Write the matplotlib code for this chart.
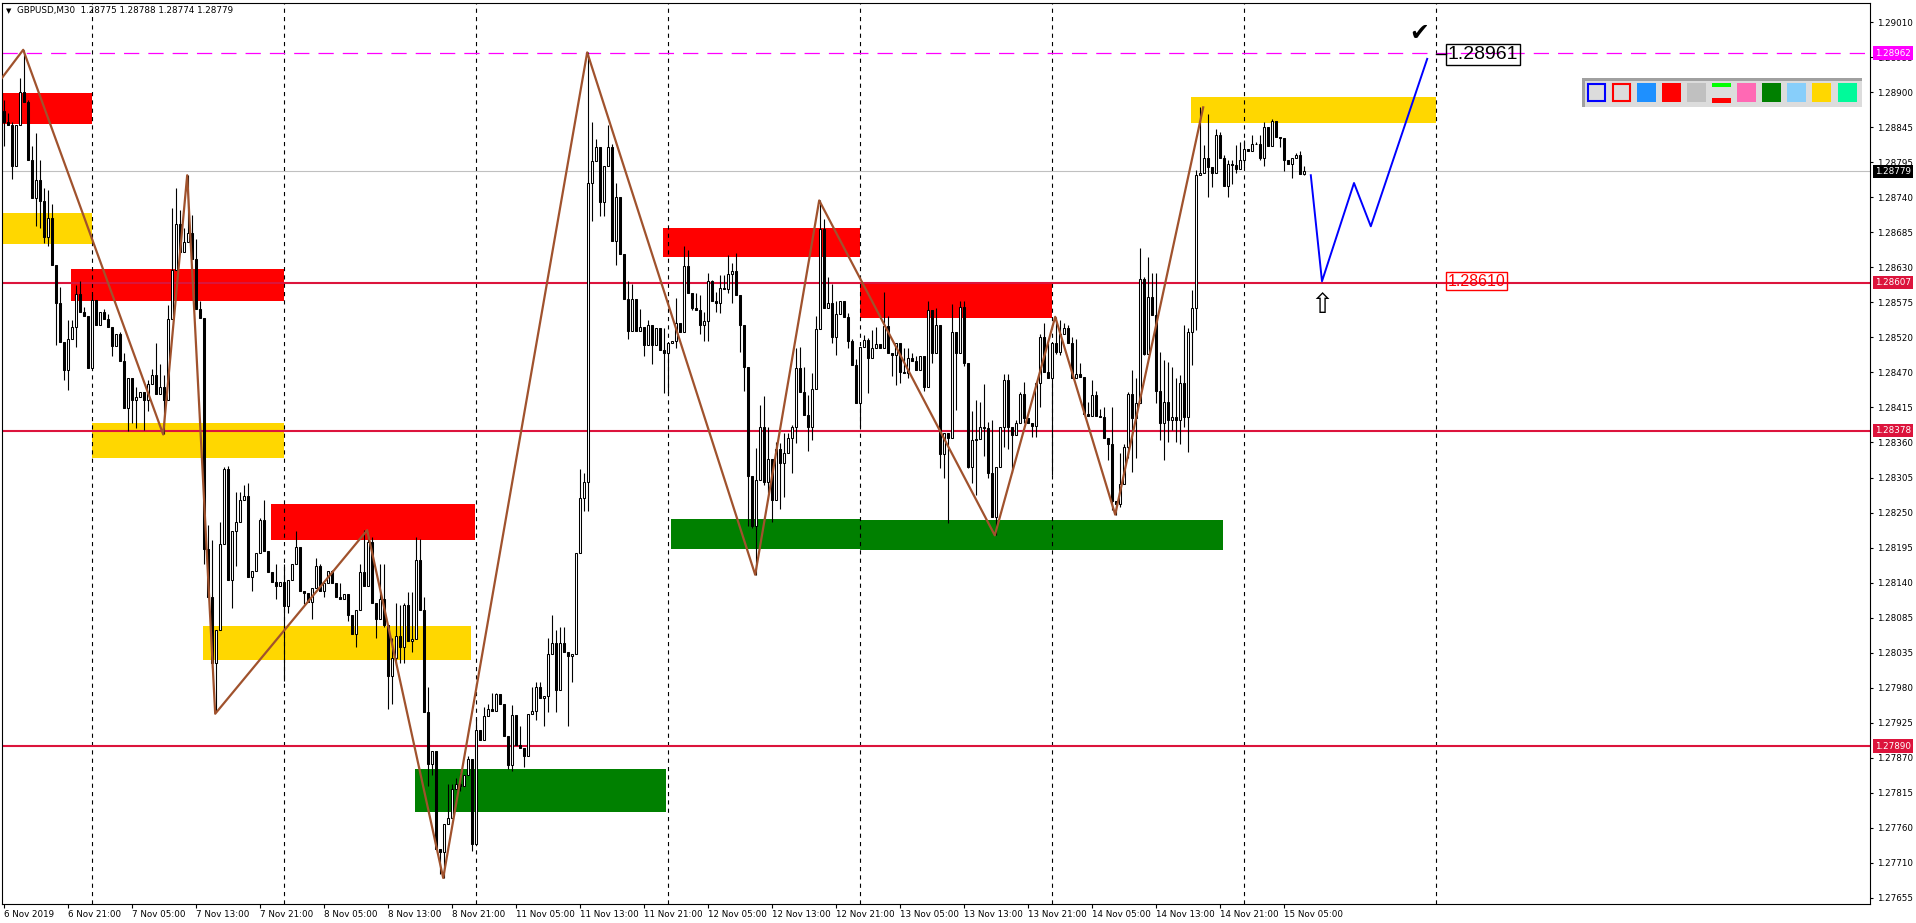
import matplotlib
matplotlib.use("Agg")
import matplotlib.pyplot as plt
import matplotlib.transforms as mtrans
from matplotlib.patches import Rectangle
import numpy as np

plt.rcParams['font.family'] = ['DejaVu Sans']
plt.rcParams['lines.scale_dashes'] = False

# prices are stored as 1e-5 steps above 1.0  (28855 -> 1.28855)
first_open = 28872
closes = [
    28855, 28850, 28788, 28850, 28901, 28887, 28796, 28738, 28765, 28733,
    28677, 28707, 28634, 28576, 28515, 28471, 28520, 28539, 28590, 28562,
    28556, 28475, 28580, 28542, 28562, 28550, 28539, 28509, 28528, 28486,
    28413, 28459, 28426, 28430, 28437, 28426, 28450, 28464, 28434, 28445,
    28426, 28550, 28627, 28697, 28654, 28670, 28684, 28643, 28566, 28552,
    28195, 28120, 28018, 28069, 28202, 28318, 28147, 28222, 28237, 28271,
    28277, 28151, 28161, 28188, 28239, 28192, 28160, 28144, 28137, 28144,
    28107, 28147, 28171, 28198, 28130, 28127, 28113, 28134, 28168, 28130,
    28142, 28161, 28142, 28121, 28118, 28125, 28093, 28064, 28100, 28159,
    28138, 28206, 28112, 28087, 28117, 28078, 27998, 28027, 28061, 28044,
    28108, 28053, 28055, 28178, 28100, 27943, 27862, 27883, 27731, 27726,
    27769, 27779, 27824, 27832, 27828, 27845, 27870, 27739, 27915, 27900,
    27937, 27947, 27945, 27971, 27955, 27906, 27860, 27938, 27892, 27887,
    27875, 27940, 27945, 27981, 27964, 27968, 28033, 28049, 27976, 28050,
    28036, 28030, 28033, 28189, 28273, 28299, 28761, 28795, 28817, 28732,
    28787, 28817, 28672, 28740, 28651, 28582, 28532, 28582, 28532, 28539,
    28511, 28541, 28511, 28536, 28503, 28498, 28513, 28516, 28545, 28531,
    28633, 28591, 28567, 28565, 28541, 28548, 28609, 28578, 28576, 28598,
    28597, 28620, 28625, 28588, 28541, 28477, 28307, 28230, 28302, 28383,
    28299, 28334, 28271, 28349, 28328, 28344, 28366, 28384, 28475, 28437,
    28402, 28384, 28442, 28535, 28690, 28567, 28575, 28523, 28559, 28578,
    28554, 28516, 28480, 28421, 28507, 28518, 28490, 28506, 28512, 28505,
    28540, 28498, 28495, 28514, 28468, 28467, 28490, 28485, 28471, 28493,
    28446, 28564, 28498, 28542, 28342, 28374, 28366, 28530, 28498, 28569,
    28483, 28322, 28364, 28365, 28384, 28382, 28312, 28245, 28322, 28384,
    28457, 28384, 28371, 28390, 28434, 28397, 28390, 28385, 28451, 28522,
    28469, 28460, 28513, 28500, 28528, 28536, 28513, 28459, 28465, 28461,
    28404, 28400, 28433, 28400, 28399, 28367, 28358, 28269, 28265, 28296,
    28353, 28434, 28397, 28420, 28613, 28497, 28585, 28557, 28440, 28390,
    28422, 28394, 28399, 28394, 28451, 28399, 28531, 28568, 28773, 28776,
    28800, 28786, 28777, 28836, 28799, 28756, 28790, 28789, 28782, 28796,
    28814, 28811, 28821, 28822, 28800, 28848, 28818, 28857, 28832, 28831,
    28797, 28791, 28800, 28804, 28775, 28779,
]
# wick extremes (bar index -> price)
high_wick = {
    0: 28889, 1: 28869, 2: 28855, 4: 28923, 5: 28967, 6: 28889, 7: 28818, 8: 28838, 9: 28797,
    10: 28753, 11: 28750, 12: 28729, 14: 28600, 16: 28549, 17: 28549, 18: 28603, 19: 28610,
    20: 28569, 22: 28590, 23: 28580, 25: 28566, 26: 28559, 29: 28530, 30: 28498, 33: 28445,
    36: 28457, 37: 28474, 38: 28513, 39: 28481, 40: 28464, 41: 28573, 42: 28722, 43: 28753,
    44: 28719, 45: 28692, 46: 28773, 47: 28712, 48: 28675, 49: 28579, 51: 28232, 52: 28209,
    54: 28236, 55: 28321, 56: 28324, 58: 28283, 59: 28283, 60: 28294, 61: 28297, 64: 28243,
    65: 28270, 68: 28171, 70: 28171, 73: 28222, 78: 28181, 79: 28171, 82: 28163, 84: 28142,
    89: 28172, 90: 28224, 91: 28218, 92: 28214, 94: 28172, 95: 28172, 97: 28057, 98: 28112,
    99: 28108, 100: 28112, 101: 28129, 102: 28129, 103: 28214, 104: 28210, 105: 28121,
    106: 27981, 111: 27832, 112: 27832, 113: 27841, 114: 27849, 116: 27875, 117: 27866,
    118: 27934, 120: 27951, 121: 27955, 122: 27972, 123: 27972, 127: 27954, 129: 27921,
    132: 27981, 133: 27989, 134: 27989, 136: 28057, 137: 28093, 138: 28070, 139: 28074,
    140: 28074, 144: 28318, 145: 28312, 146: 28963, 147: 28855, 148: 28829, 151: 28850,
    152: 28822, 153: 28761, 156: 28609, 157: 28604, 159: 28566, 161: 28549, 165: 28537,
    168: 28583, 170: 28664, 171: 28658, 173: 28591, 174: 28588, 175: 28562, 176: 28621,
    177: 28611, 178: 28593, 179: 28619, 180: 28619, 181: 28650, 182: 28637, 183: 28652,
    188: 28351, 189: 28418, 190: 28431, 191: 28384, 193: 28361, 194: 28359, 195: 28374,
    196: 28374, 197: 28387, 198: 28506, 199: 28508, 200: 28477, 201: 28433, 202: 28467,
    203: 28555, 204: 28735, 205: 28705, 206: 28616, 207: 28604, 208: 28578, 209: 28579,
    210: 28579, 211: 28560, 212: 28519, 213: 28488, 214: 28508, 215: 28526, 216: 28521,
    217: 28533, 218: 28539, 220: 28592, 221: 28555, 225: 28506, 226: 28506, 227: 28498,
    228: 28493, 231: 28578, 232: 28562, 233: 28567, 237: 28574, 239: 28578, 240: 28578,
    242: 28408, 243: 28426, 244: 28423, 245: 28450, 246: 28392, 247: 28394, 250: 28466,
    251: 28466, 253: 28394, 254: 28438, 255: 28453, 258: 28453, 259: 28528, 260: 28544,
    261: 28513, 263: 28554, 264: 28549, 265: 28544, 266: 28541, 267: 28523, 268: 28520,
    269: 28482, 270: 28453, 271: 28422, 272: 28456, 273: 28440, 274: 28412, 275: 28415,
    277: 28415, 279: 28343, 280: 28358, 281: 28438, 282: 28471, 283: 28459, 284: 28660,
    285: 28616, 286: 28647, 287: 28621, 288: 28621, 289: 28500, 290: 28487, 291: 28484,
    292: 28477, 293: 28459, 294: 28464, 295: 28541, 296: 28536, 297: 28595, 298: 28781,
    299: 28878, 300: 28819, 301: 28868, 303: 28845, 304: 28840, 305: 28804, 306: 28796,
    307: 28796, 308: 28819, 309: 28825, 310: 28827, 312: 28835, 313: 28825, 314: 28835,
    315: 28856, 317: 28860, 323: 28807, 324: 28811, 325: 28788,
}
low_wick = {
    0: 28818, 2: 28767, 3: 28787, 8: 28695, 9: 28692, 10: 28668, 11: 28663, 13: 28510,
    15: 28457, 16: 28441, 18: 28508, 22: 28494, 27: 28494, 31: 28377, 32: 28389, 33: 28382,
    35: 28379, 36: 28409, 40: 28372, 50: 28171, 52: 28011, 53: 27943, 57: 28103, 58: 28168,
    62: 28130, 68: 28117, 70: 27991, 71: 28096, 75: 28110, 77: 28086, 80: 28120, 86: 28084,
    88: 28044, 93: 28057, 95: 28074, 96: 27947, 97: 27955, 98: 28015, 99: 28019, 100: 28019,
    102: 28036, 106: 27828, 107: 27845, 109: 27692, 110: 27686, 114: 27820, 117: 27728,
    118: 27870, 126: 27854, 127: 27852, 130: 27858, 133: 27930, 135: 27921, 136: 27943,
    138: 27943, 141: 27921, 142: 27989, 145: 28254, 146: 28254, 147: 28702, 149: 28710,
    150: 28710, 153: 28634, 156: 28520, 160: 28494, 162: 28481, 165: 28436, 166: 28436,
    168: 28506, 172: 28565, 174: 28528, 175: 28516, 176: 28516, 178: 28562, 179: 28560,
    181: 28591, 182: 28575, 184: 28499, 185: 28440, 186: 28230, 187: 28227, 188: 28155,
    189: 28305, 190: 28294, 191: 28281, 192: 28237, 194: 28256, 195: 28276, 197: 28313,
    198: 28359, 201: 28346, 202: 28364, 207: 28513, 208: 28495, 211: 28506, 214: 28384,
    216: 28436, 222: 28462, 223: 28449, 224: 28451, 226: 28459, 230: 28439, 232: 28482,
    234: 28320, 235: 28305, 236: 28235, 238: 28410, 240: 28478, 241: 28320, 242: 28297,
    243: 28279, 245: 28338, 246: 28305, 248: 28216, 250: 28353, 251: 28350, 252: 28312,
    255: 28389, 257: 28368, 258: 28368, 259: 28415, 262: 28309, 263: 28497, 264: 28495,
    276: 28332, 277: 28255, 278: 28247, 279: 28260, 281: 28335, 282: 28314, 283: 28335,
    285: 28495, 288: 28420, 289: 28363, 290: 28332, 291: 28361, 292: 28379, 293: 28361,
    294: 28358, 295: 28384, 296: 28345, 297: 28479, 298: 28533, 301: 28740, 302: 28755,
    305: 28756, 306: 28739, 307: 28760, 308: 28776, 310: 28785, 314: 28796, 315: 28787,
    319: 28817, 320: 28780, 322: 28768, 325: 28774,
}

time_bars = [0, 16, 32, 48, 64, 80, 96, 112, 128, 144, 160, 176, 192, 208, 224, 240, 256, 272, 288, 304, 320]
time_labels = ['6 Nov 2019', '6 Nov 21:00', '7 Nov 05:00', '7 Nov 13:00', '7 Nov 21:00',
               '8 Nov 05:00', '8 Nov 13:00', '8 Nov 21:00', '11 Nov 05:00', '11 Nov 13:00',
               '11 Nov 21:00', '12 Nov 05:00', '12 Nov 13:00', '12 Nov 21:00', '13 Nov 05:00',
               '13 Nov 13:00', '13 Nov 21:00', '14 Nov 05:00', '14 Nov 13:00', '14 Nov 21:00',
               '15 Nov 05:00']
day_bars = [22, 70, 118, 166, 214, 262, 310, 358]
price_labels = ['1.29010', '1.28955', '1.28900', '1.28845', '1.28795', '1.28740', '1.28685',
                '1.28630', '1.28575', '1.28520', '1.28470', '1.28415', '1.28360', '1.28305',
                '1.28250', '1.28195', '1.28140', '1.28085', '1.28035', '1.27980', '1.27925',
                '1.27870', '1.27815', '1.27760', '1.27710', '1.27655']

red_levels = [1.28607, 1.28378, 1.27890]
magenta_level = 1.28962
bid_level = 1.28779

zone_left = [-1, -1, 16.85, 22, 66.85, 49.85, 102.85, 164.9, 166.9, 214, 214, 296.8]
zone_right = [22, 22, 70, 70, 117.9, 116.8, 165.6, 214, 214, 262, 304.8, 358]
zone_low = [28852, 28666, 28579, 28336, 28208, 28023, 27788, 28647, 28195, 28552, 28193, 28854]
zone_high = [28900, 28715, 28628, 28389, 28265, 28076, 27855, 28691, 28241, 28607, 28239, 28894]
zone_color = ['#FF0000', '#FFD700', '#FF0000', '#FFD700', '#FF0000', '#FFD700', '#008000',
              '#FF0000', '#008000', '#FF0000', '#008000', '#FFD700']

zigzag_x = [-0.6, 4.9, 39.9, 45.9, 52.9, 90.9, 109.9, 145.9, 187.9, 203.9, 247.8, 262.9, 277.9, 299.9]
zigzag_y = [28922, 28967, 28372, 28773, 27940, 28224, 27686, 28963, 28155, 28734, 28216, 28554, 28248, 28878]

proj_x = [326.8, 329.6, 337.6, 341.8, 355.9]
proj_y = [28773, 28609, 28761, 28694, 28953]

palette = ['blue_frame', 'red_frame', '#1E90FF', '#FF0000', '#C0C0C0', 'lines',
           '#FF69B4', '#008000', '#87CEFA', '#FFD700', '#00FA9A']


def price(v):
    return 1 + v / 1e5


W, H = 1916, 923
L, R, T, B = 2, 1870, 2.5, 904

fig = plt.figure(figsize=(W / 100, H / 100), dpi=100)
ax = fig.add_axes([L / W, 1 - B / H, (R - L) / W, (B - T) / H])
ax.set_xlim(-0.4, 466.6)
ax.set_ylim(1.276457, 1.290402)

# zones
for x0, x1, y0, y1, c in zip(zone_left, zone_right, zone_low, zone_high, zone_color):
    ax.add_patch(Rectangle((x0, price(y0)), x1 - x0, price(y1) - price(y0),
                           facecolor=c, edgecolor='none', zorder=1))

# day separators
for d in day_bars:
    ax.axvline(d, color='black', lw=0.8, ls=(0, (3, 3)), zorder=2)

# horizontal levels
ax.axhline(bid_level, color='#C0C0C0', lw=0.8, zorder=2)
ax.axhline(magenta_level, color='#FF00FF', lw=0.9, ls=(0, (11, 6.5)), zorder=2)
for lv in red_levels:
    ax.axhline(lv, color='#DC143C', lw=1.5, zorder=2.2)

# candles
n = len(closes)
opens = [first_open] + closes[:-1]
xs = np.arange(n)
o = np.array([price(v) for v in opens])
c = np.array([price(v) for v in closes])
hi = np.array([max(opens[i], closes[i], high_wick.get(i, 0)) for i in range(n)]) / 1e5 + 1
lo = np.array([min(opens[i], closes[i], low_wick.get(i, 99999)) for i in range(n)]) / 1e5 + 1
ax.vlines(xs, lo, hi, color='black', lw=0.8, zorder=3)
body_col = ['white' if cc >= oo else 'black' for oo, cc in zip(o, c)]
ax.bar(xs, np.maximum(np.abs(c - o), 1e-6), bottom=np.minimum(o, c), width=0.5,
       color=body_col, edgecolor='black', lw=0.75, zorder=4)

# zigzag and projection
ax.plot(zigzag_x, [price(v) for v in zigzag_y], color='#A0522D', lw=1.6, zorder=5)
ax.plot(proj_x, [price(v) for v in proj_y], color='#0000FF', lw=1.4, zorder=5)

# annotations
ax.plot([358, 360.6], [1.28961, 1.28961], color='black', lw=1, zorder=6)
ax.text(361.0, 1.28960, '1.28961', fontsize=14, family=['Liberation Sans', 'DejaVu Sans'],
        ha='left', va='center', zorder=7,
        bbox=dict(boxstyle='square,pad=0.1', fc='none', ec='black', lw=1))
ax.text(361.0, 1.28609, '1.28610', fontsize=11.5, color='#FF0000',
        family=['Liberation Sans', 'DejaVu Sans'], ha='left', va='center', zorder=7,
        bbox=dict(boxstyle='square,pad=0.1', fc='none', ec='#FF0000', lw=1))
ax.text(353.9, 1.28993, '\u2714', fontsize=17, ha='center', va='center', color='black', zorder=7)
ax.text(329.6, 1.28572, '\u21e7', fontsize=20, ha='center', va='center', color='black', zorder=7)

# axes styling
for sp in ax.spines.values():
    sp.set_color('black')
    sp.set_linewidth(0.8)
ax.yaxis.tick_right()
ax.set_yticks(np.linspace(1.29010, 1.27655, len(price_labels)), price_labels)
ax.tick_params(axis='y', right=True, left=False, length=2.5, width=0.8, pad=2.5,
               labelsize=6.3, colors='black')
ax.set_xticks(time_bars, time_labels, ha='left')
ax.tick_params(axis='x', length=3, width=0.8, pad=1.5, labelsize=6.3)

tr = mtrans.blended_transform_factory(ax.transAxes, ax.transData)
boxes = [(magenta_level, '#FF00FF'), (bid_level, 'black')] + [(v, '#DC143C') for v in red_levels]
for val, col in boxes:
    ax.text(1 + 5 / (R - L), val, f'{val:.5f}', transform=tr, ha='left', va='center',
            fontsize=6.3, color='white', clip_on=False, zorder=10,
            bbox=dict(boxstyle='square,pad=0.25', fc=col, ec='none'))

# title
last = len(closes) - 1
ttl = 'GBPUSD,M30  {:.5f} {:.5f} {:.5f} {:.5f}'.format(
    price(opens[last]), hi[last], lo[last], price(closes[last]))
fig.text(6 / W, 1 - 11 / H, '\u25bc', fontsize=5, va='center', ha='left')
fig.text(17 / W, 1 - 11 / H, ttl, fontsize=6.3, va='center', ha='left')


# palette panel
def fig_rect(x, y, w, h, **kw):
    fig.add_artist(Rectangle((x / W, 1 - (y + h) / H), w / W, h / H,
                             transform=fig.transFigure, **kw))


fig_rect(1582, 78, 280, 29, facecolor='#DCDCDC', edgecolor='none')
fig_rect(1582, 78, 280, 2.5, facecolor='#A0A0A0', edgecolor='none')
fig_rect(1582, 78, 2.5, 29, facecolor='#A0A0A0', edgecolor='none')
for i, col in enumerate(palette):
    x0 = 1587 + 25.05 * i
    if col == 'blue_frame':
        fig_rect(x0 + 1, 84.3, 17, 17, facecolor='#DCDCDC', edgecolor='#0000FF', lw=1.5)
    elif col == 'red_frame':
        fig_rect(x0 + 1, 84.3, 17, 17, facecolor='#DCDCDC', edgecolor='#FF0000', lw=1.5)
    elif col == 'lines':
        fig_rect(x0, 83.3, 19, 4, facecolor='#00FF00', edgecolor='none')
        fig_rect(x0, 98.5, 19, 4, facecolor='#FF0000', edgecolor='none')
    else:
        fig_rect(x0, 83.3, 19, 19, facecolor=col, edgecolor='none')

fig.savefig('out.png', dpi=100)
